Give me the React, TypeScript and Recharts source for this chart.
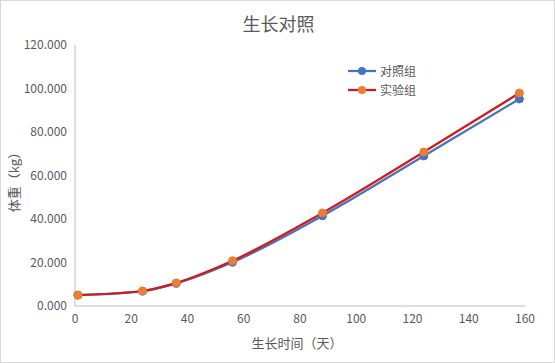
import { Line, LineChart, XAxis, YAxis } from 'recharts';

const days = [1, 24, 36, 56, 88, 124, 158];
const controlWeights = [5.0, 6.8, 10.4, 20.1, 41.5, 69.0, 95.2];
const testWeights = [5.0, 6.9, 10.6, 20.8, 42.8, 70.8, 97.9];
const xTicks = [0, 20, 40, 60, 80, 100, 120, 140, 160];
const yTicks = [0, 20, 40, 60, 80, 100, 120];

const data = days.map((day, i) => ({
  day,
  control: controlWeights[i],
  test: testWeights[i],
}));

const series = [
  { key: 'control', name: '对照组', line: '#4472C4', marker: '#4472C4' },
  { key: 'test', name: '实验组', line: '#D21A1A', marker: '#ED7D31' },
];

const FONT = '"Noto Sans CJK SC", "Noto Sans", sans-serif';
const TEXT = '#595959';

function LegendBox() {
  return (
    <div
      style={{
        position: 'absolute',
        left: 346,
        top: 60,
        fontFamily: FONT,
        fontSize: 12,
        color: TEXT,
      }}
    >
      {series.map((s) => (
        <div key={s.key} style={{ display: 'flex', alignItems: 'center', height: 19 }}>
          <svg width={30} height={10} style={{ marginRight: 3 }}>
            <line x1={1} y1={5} x2={29} y2={5} stroke={s.line} strokeWidth={2.25} />
            <circle cx={15} cy={5} r={4} fill={s.marker} />
          </svg>
          <span>{s.name}</span>
        </div>
      ))}
    </div>
  );
}

export default function App() {
  return (
    <div
      style={{
        position: 'absolute',
        left: 0,
        top: 0,
        width: 555,
        height: 363,
        boxSizing: 'border-box',
        border: '1px solid #d9d9d9',
        background: '#fff',
        fontFamily: FONT,
      }}
    >
      <div
        style={{
          position: 'absolute',
          left: 0,
          width: 555,
          top: 9,
          textAlign: 'center',
          fontSize: 18,
          color: TEXT,
        }}
      >
        生长对照
      </div>
      <div
        style={{
          position: 'absolute',
          left: 246,
          width: 100,
          top: 332,
          textAlign: 'center',
          fontSize: 13,
          color: TEXT,
        }}
      >
        生长时间（天）
      </div>
      <div
        style={{
          position: 'absolute',
          left: 13 - 50,
          top: 178 - 9,
          width: 100,
          height: 18,
          lineHeight: '18px',
          textAlign: 'center',
          fontSize: 13,
          color: TEXT,
          transform: 'rotate(-90deg)',
        }}
      >
        体重（kg）
      </div>
      <LineChart
        width={553}
        height={361}
        data={data}
        margin={{ top: 44, right: 29, bottom: 0, left: 0 }}
        style={{ position: 'absolute', left: 0, top: 0 }}
      >
        <XAxis
          dataKey="day"
          type="number"
          domain={[0, 160]}
          ticks={xTicks}
          height={56}
          tickLine={false}
          stroke="#bfbfbf"
          tick={{ fill: TEXT, fontSize: 12, fontFamily: FONT }}
          interval={0}
        />
        <YAxis
          type="number"
          domain={[0, 120]}
          ticks={yTicks}
          width={74}
          tickLine={false}
          stroke="#bfbfbf"
          tick={{ fill: TEXT, fontSize: 12, fontFamily: FONT }}
          tickFormatter={(v: number) => v.toFixed(3)}
          interval={0}
        />
        {series.map((s) => (
          <Line
            key={s.key}
            type="monotone"
            dataKey={s.key}
            name={s.name}
            stroke={s.line}
            strokeWidth={2.25}
            dot={{ r: 4, fill: s.marker, stroke: s.marker, strokeWidth: 1 }}
            activeDot={false}
            isAnimationActive={false}
          />
        ))}
      </LineChart>
      <LegendBox />
    </div>
  );
}
